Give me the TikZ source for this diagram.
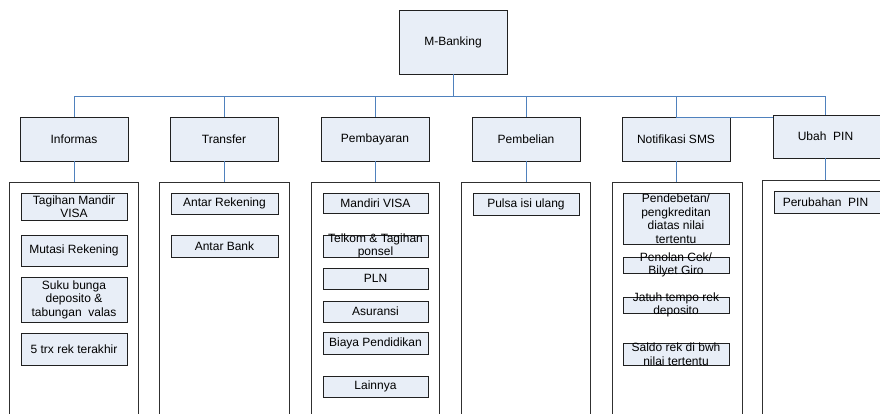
\documentclass[tikz,border=0pt]{standalone}
\usepackage{fontspec}
\setmainfont{Liberation Sans}
\definecolor{boxfill}{HTML}{E8EEF7}
\definecolor{linkblue}{HTML}{4F81BD}
\definecolor{edgecol}{HTML}{202020}
\definecolor{contcol}{HTML}{303030}
\newcommand\mbbox[6]{%
  \node[box, minimum width={#4-#2}, minimum height={#5-#3}] (#1) at (#2,#3) {};
  \node[txt] (#1t) at (#1.center) {#6};}
\newcommand\mbcont[5]{%
  \node[cont, minimum width={#4-#2}, minimum height={#5-#3}] (#1) at (#2,#3) {};}
\begin{document}
\begin{tikzpicture}[x=1pt,y=-1pt,
  box/.style={draw=edgecol, fill=boxfill, line width=0.9pt, inner sep=0pt, outer sep=0pt, anchor=north west},
  cont/.style={draw=contcol, fill=white, line width=0.9pt, inner sep=0pt, outer sep=0pt, anchor=north west},
  txt/.style={align=center, inner sep=0pt, font=\fontsize{12}{13.5}\selectfont, text=black},
  link/.style={draw=linkblue, line width=0.8pt}]
\useasboundingbox (0,0) rectangle (880,414);
\clip (0,0) rectangle (880,414);
\fill[white] (0,0) rectangle (880,414);
% containers
\mbcont{c1}{9}{182}{138}{420}
\mbcont{c2}{159}{182}{289}{420}
\mbcont{c3}{311}{182}{439}{420}
\mbcont{c4}{461}{182}{590}{420}
\mbcont{c5}{612}{182}{742}{420}
\mbcont{c6}{762}{180}{892}{420}
% root and headers
\mbbox{root}{399}{10}{507}{74}{M-Banking}
\mbbox{h1}{20}{117}{128}{161}{Informas}
\mbbox{h2}{170}{117}{278}{161}{Transfer}
\mbbox{h3}{321}{117}{429}{161}{Pembayaran}
\mbbox{h4}{472}{117}{580}{161}{Pembelian}
\mbbox{h5}{622}{117}{730}{161}{Notifikasi SMS}
\mbbox{h6}{773}{115}{884}{158}{\hspace*{-6pt}Ubah\ \ PIN}
% items
\mbbox{i11}{21}{193}{127}{220}{Tagihan Mandir\\VISA}
\mbbox{i12}{21}{235}{127}{266}{Mutasi Rekening}
\mbbox{i13}{21}{277}{127}{322}{Suku bunga\\deposito \&\\tabungan\ \ valas}
\mbbox{i14}{21}{333}{127}{365}{5 trx rek terakhir}
\mbbox{i21}{171}{193}{278}{214}{Antar Rekening}
\mbbox{i22}{171}{235}{278}{257}{Antar Bank}
\mbbox{i31}{323}{193}{428}{213}{Mandiri VISA}
\mbbox{i32}{323}{235}{428}{257}{Telkom \& Tagihan\\ponsel}
\mbbox{i33}{323}{268}{428}{289}{PLN}
\mbbox{i34}{323}{301}{428}{322}{Asuransi}
\mbbox{i35}{323}{332}{428}{354}{Biaya Pendidikan}
\mbbox{i36}{323}{376}{428}{397}{Lainnya}
\mbbox{i41}{473}{193}{579}{215}{Pulsa isi ulang}
\mbbox{i51}{623}{193}{729}{244}{Pendebetan/\\pengkreditan\\diatas nilai\\tertentu}
\mbbox{i52}{623}{257}{729}{273}{Penolan Cek/\\Bilyet Giro}
\mbbox{i53}{623}{297}{729}{313}{Jatuh tempo rek\\deposito}
\mbbox{i54}{623}{343}{729}{365}{Saldo rek di bwh\\nilai tertentu}
\mbbox{i61}{774}{191}{885}{213}{\hspace*{-8pt}Perubahan\ \ PIN}
% connectors
\coordinate (bus) at (0,96);
\draw[link] (root.south) -- (root.south |- bus);
\draw[link] (h1.north) -- (h1.north |- bus) -- ([xshift=-3pt]h6.north |- bus) -- ([xshift=-3pt]h6.north);
\foreach \h in {h2,h3,h4,h5}{\draw[link] (\h.north) -- (\h.north |- bus);}
\draw[link] (h5.north) -- (h5.north -| h6.west);
\foreach \i in {1,...,5}{\draw[link] (h\i.south) -- (h\i.south |- c\i.north);}
\draw[link] ([xshift=-3pt]h6.south) -- ([xshift=-3pt]h6.south |- c6.north);
\end{tikzpicture}
\end{document}
